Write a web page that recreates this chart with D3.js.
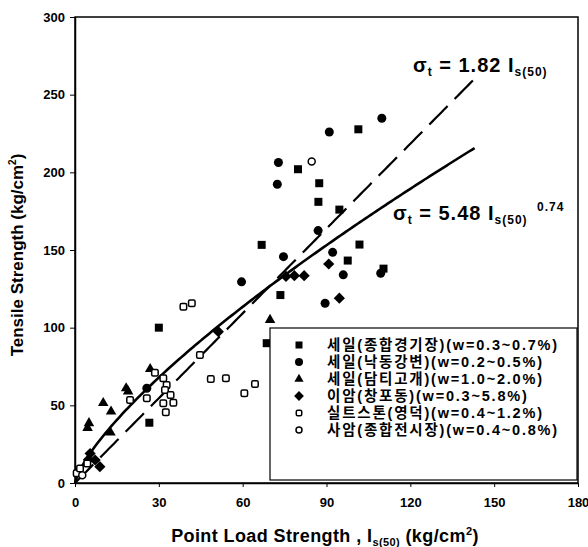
<!DOCTYPE html>
<html>
<head>
<meta charset="utf-8">
<script src="https://d3js.org/d3.v7.min.js"></script>
<style>
body { margin: 0; background: #fff; }
text { font-family: "Liberation Sans", Arial, sans-serif; font-weight: bold; fill: #000; }
.kr { font-family: "Liberation Sans", "Noto Sans CJK KR", sans-serif; font-weight: bold; }
</style>
</head>
<body>
<div id="chart"></div>
<script>
/* Data */
var xTicks = [0, 30, 60, 90, 120, 150, 180];
var yTicks = [0, 50, 100, 150, 200, 250, 300];

var seriesNames = [
    "세일(종합경기장)(w=0.3~0.7%)",
    "세일(낙동강변)(w=0.2~0.5%)",
    "세일(담티고개)(w=1.0~2.0%)",
    "이암(창포동)(w=0.3~5.8%)",
    "실트스톤(영덕)(w=0.4~1.2%)",
    "사암(종합전시장)(w=0.4~0.8%)"
];
var seriesSymbols = ["square", "circle", "triangle", "diamond", "openSquare", "openCircle"];

var shaleStadium = [[30,100],[26.6,38.8],[68.6,90],[66.8,153.3],[73.5,121],[79.8,202],[87.4,193],
    [87.1,181],[94.6,176],[101.8,153.5],[97.6,143.2],[101.4,227.7],[110.4,138]];
var shaleNakdong = [[25.7,61],[59.6,129.5],[72.8,206.3],[72.4,192.3],[87,162.5],[74.6,145.7],
    [92.2,148.5],[96,134],[109.4,135],[91,226],[109.8,234.8],[89.5,115.7]];
var shaleDamti = [[4.5,35.5],[5,38.5],[10.1,51.5],[12.9,46],[12.7,32.5],[18.3,61],[19,59],
    [26.9,73.4],[69.8,105]];
var mudstone = [[4.8,15],[5.4,19],[7.2,14.8],[8.9,10.5],[51.3,97.4],[75.5,133],[78.5,133.5],
    [82,133.5],[90.8,141],[94.6,119]];
var siltstone = [[0.6,6.2],[1.8,9.4],[4.4,12.6],[19.7,53.4],[25.7,54.5],[28.6,71],[31.6,67.4],
    [32.8,63.1],[32.2,59.9],[34.2,56.7],[31.6,51.3],[35.2,51.7],[32.5,45.5],[38.8,113.5],
    [41.8,115.7],[44.7,82.4],[48.6,67],[54,67.4],[60.6,57.8],[64.4,63.7]];
var sandstone = [[84.7,206.9],[2.6,5]];

var allSeries = [shaleStadium, shaleNakdong, shaleDamti, mudstone, siltstone, sandstone];

/* Fit equations printed on the chart */
var linearCoef = 1.82;
var powerCoef = 5.48;
var powerExp = 0.74;
var fitMax = 143;

var svg = d3.select("#chart").append("svg")
    .attr("width", 588)
    .attr("height", 547);

var x = d3.scaleLinear().domain([0, 180]).range([75, 578]);
var y = d3.scaleLinear().domain([0, 300]).range([483, 17]);

/* Frame */
svg.append("rect")
    .attr("x", x(0)).attr("y", y(300))
    .attr("width", x(180) - x(0)).attr("height", y(0) - y(300))
    .attr("fill", "none").attr("stroke", "#000").attr("stroke-width", 1.5);

var xAxis = svg.append("g")
    .attr("transform", "translate(0," + y(0) + ")")
    .call(d3.axisBottom(x).tickValues(xTicks).tickSize(4).tickPadding(11).tickSizeOuter(0));
var yAxis = svg.append("g")
    .attr("transform", "translate(" + x(0) + ",0)")
    .call(d3.axisLeft(y).tickValues(yTicks).tickSize(5).tickPadding(5).tickSizeOuter(0));
[xAxis, yAxis].forEach(function(g) {
    g.select(".domain").attr("stroke-width", 1.5);
    g.selectAll("text").attr("font-size", "13px").attr("font-family", "Liberation Sans").attr("font-weight", "bold");
});

/* Fit lines */
var fitX = d3.range(0, fitMax + 0.001, 1);
var line = d3.line().x(d => x(d[0])).y(d => y(d[1]));

svg.append("path")
    .datum(fitX.map(v => [v, linearCoef * v]))
    .attr("d", line)
    .attr("fill", "none").attr("stroke", "#000").attr("stroke-width", 2.2)
    .attr("stroke-dasharray", "26,10");

svg.append("path")
    .datum(fitX.map(v => [v, powerCoef * Math.pow(v, powerExp)]))
    .attr("d", line)
    .attr("fill", "none").attr("stroke", "#000").attr("stroke-width", 2.6);

/* Markers */
function drawSymbol(g, kind, cx, cy, s) {
    if (kind == "square") {
        g.append("rect").attr("x", cx - s/2).attr("y", cy - s/2).attr("width", s).attr("height", s).attr("fill", "#000");
    } else if (kind == "circle") {
        g.append("circle").attr("cx", cx).attr("cy", cy).attr("r", s/2 + 0.5).attr("fill", "#000");
    } else if (kind == "triangle") {
        g.append("path").attr("d", d3.symbol(d3.symbolTriangle, s*s*0.75)())
            .attr("transform", "translate(" + cx + "," + cy + ")").attr("fill", "#000");
    } else if (kind == "diamond") {
        var h = s * 0.7;
        g.append("path").attr("d", "M" + cx + "," + (cy - h) + "L" + (cx + h) + "," + cy + "L" + cx + "," + (cy + h) + "L" + (cx - h) + "," + cy + "Z")
            .attr("fill", "#000");
    } else if (kind == "openSquare") {
        g.append("rect").attr("x", cx - s/2 + 0.75).attr("y", cy - s/2 + 0.75).attr("width", s - 1.5).attr("height", s - 1.5)
            .attr("rx", 1.5).attr("fill", "#fff").attr("stroke", "#000").attr("stroke-width", 1.5);
    } else {
        g.append("circle").attr("cx", cx).attr("cy", cy).attr("r", s/2 - 0.5)
            .attr("fill", "#fff").attr("stroke", "#000").attr("stroke-width", 1.5);
    }
}

var marks = svg.append("g");
allSeries.forEach(function(pts, i) {
    pts.forEach(function(d) {
        drawSymbol(marks, seriesSymbols[i], x(d[0]), y(d[1]), 8);
    });
});

/* Legend */
var legend = svg.append("g");
legend.append("rect")
    .attr("x", 270).attr("y", 328).attr("width", 307).attr("height", 152)
    .attr("fill", "#fff").attr("stroke", "#000").attr("stroke-width", 1.2);
seriesNames.forEach(function(name, i) {
    var ly = 345 + i * 17;
    drawSymbol(legend, seriesSymbols[i], 299, ly, 7);
    legend.append("text")
        .attr("class", "kr")
        .attr("x", 327).attr("y", ly + 5)
        .attr("font-size", "14.5px")
        .attr("letter-spacing", "1.8px")
        .text(name);
});

/* Equations */
var eq1 = svg.append("text").attr("x", 413).attr("y", 72).attr("font-size", "20px").attr("letter-spacing", "1px");
eq1.append("tspan").text("σ");
eq1.append("tspan").attr("font-size", "12px").attr("dy", 4).text("t");
eq1.append("tspan").attr("dy", -4).text(" = 1.82 I");
eq1.append("tspan").attr("font-size", "12px").attr("dy", 4).text("s(50)");

var eq2 = svg.append("text").attr("x", 393).attr("y", 220).attr("font-size", "20px").attr("letter-spacing", "1px");
eq2.append("tspan").text("σ");
eq2.append("tspan").attr("font-size", "12px").attr("dy", 4).text("t");
eq2.append("tspan").attr("dy", -4).text(" = 5.48 I");
eq2.append("tspan").attr("font-size", "12px").attr("dy", 4).text("s(50)");
eq2.append("tspan").attr("font-size", "12px").attr("x", 537).attr("y", 211).text("0.74");

/* Axis titles */
var xt = svg.append("text").attr("x", 325).attr("y", 542).attr("text-anchor", "middle")
    .attr("font-size", "18px").attr("letter-spacing", "0.4px");
xt.append("tspan").text("Point Load Strength , I");
xt.append("tspan").attr("font-size", "11px").attr("dy", 4).text("s(50)");
xt.append("tspan").attr("dy", -4).text(" (kg/cm");
xt.append("tspan").attr("font-size", "11px").attr("dy", -7).text("2");
xt.append("tspan").attr("dy", 7).text(")");

var yt = svg.append("text")
    .attr("transform", "translate(23,255) rotate(-90)")
    .attr("text-anchor", "middle").attr("font-size", "17px");
yt.append("tspan").text("Tensile Strength (kg/cm");
yt.append("tspan").attr("font-size", "10px").attr("dy", -7).text("2");
yt.append("tspan").attr("dy", 7).text(")");
</script>
</body>
</html>
